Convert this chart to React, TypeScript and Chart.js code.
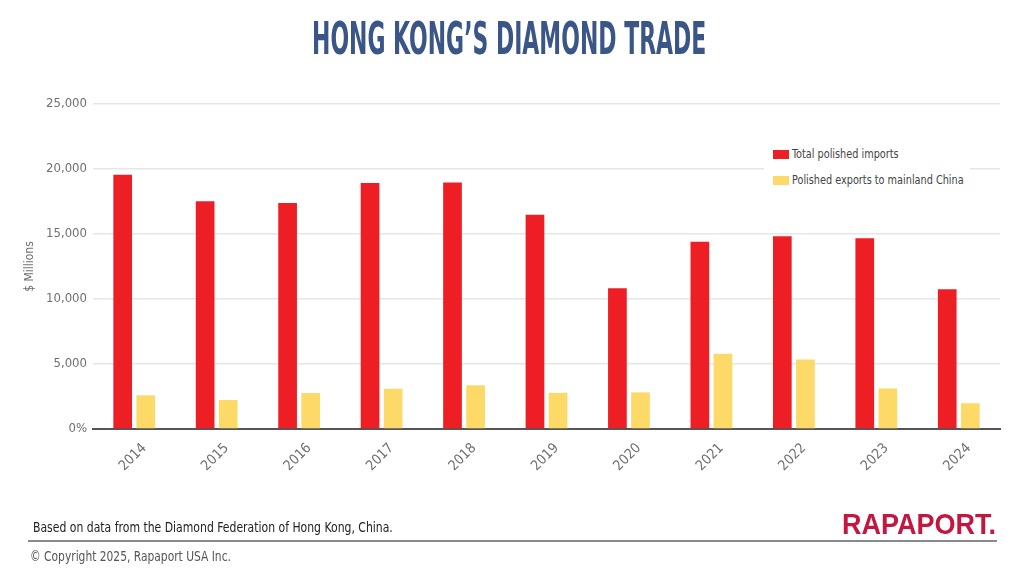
import { useEffect, useRef } from 'react';
import { Chart, registerables } from 'chart.js';

Chart.register(...registerables);

const YEARS = ['2014', '2015', '2016', '2017', '2018', '2019', '2020', '2021', '2022', '2023', '2024'];
const IMPORTS = [19560, 17510, 17380, 18920, 18970, 16480, 10830, 14400, 14830, 14680, 10750];
const EXPORTS_CHINA = [2590, 2230, 2770, 3100, 3360, 2780, 2820, 5780, 5350, 3120, 1980];
const SERIES_NAMES = ['Total polished imports', 'Polished exports to mainland China'];
const SERIES_COLORS = ['#ed1f24', '#fdd968'];

const NARROW = '"DejaVu Sans Condensed", "Liberation Sans Narrow", "Liberation Sans", sans-serif';

// squeeze html text horizontally, since no narrow face is available
function Squeezed({ scale, children, style }: { scale: number; children: any; style: any }) {
  return (
    <div
      style={{
        position: 'absolute',
        whiteSpace: 'nowrap',
        transform: `scaleX(${scale})`,
        transformOrigin: 'left top',
        ...style,
      }}
    >
      {children}
    </div>
  );
}

export default function App() {
  const canvasRef = useRef<HTMLCanvasElement>(null);
  const chartRef = useRef<Chart | null>(null);

  useEffect(() => {
    if (!canvasRef.current) return;
    chartRef.current?.destroy();

    chartRef.current = new Chart(canvasRef.current, {
      type: 'bar',
      data: {
        labels: YEARS,
        datasets: [
          {
            label: SERIES_NAMES[0],
            data: IMPORTS,
            backgroundColor: SERIES_COLORS[0],
            categoryPercentage: 0.56,
            barPercentage: 0.81,
          },
          {
            label: SERIES_NAMES[1],
            data: EXPORTS_CHINA,
            backgroundColor: SERIES_COLORS[1],
            categoryPercentage: 0.56,
            barPercentage: 0.81,
          },
        ],
      },
      options: {
        responsive: false,
        animation: false,
        layout: { padding: { top: 104, right: 24, bottom: 87, left: 0 } },
        plugins: {
          legend: { display: false },
          tooltip: { enabled: false },
        },
        scales: {
          x: {
            grid: { display: false },
            border: { display: true, color: '#555555', width: 2 },
            ticks: {
              color: '#707070',
              font: { family: NARROW, size: 14 },
              minRotation: 45,
              maxRotation: 45,
              padding: 3,
              labelOffset: 10,
            },
            afterFit: (scale) => {
              scale.height = 60;
            },
          },
          y: {
            min: 0,
            max: 25000,
            border: { display: false },
            grid: {
              color: (ctx) => (ctx.tick && ctx.tick.value === 0 ? 'rgba(0,0,0,0)' : '#e6e6e6'),
              lineWidth: 1.5,
              drawTicks: false,
            },
            ticks: {
              stepSize: 5000,
              color: '#707070',
              padding: 6,
              font: { family: NARROW, size: 13 },
              callback: (v) => (Number(v) === 0 ? '0%' : Number(v).toLocaleString('en-US')),
            },
            title: {
              display: true,
              text: '$ Millions',
              color: '#707070',
              font: { family: NARROW, size: 12 },
              padding: { top: 23, bottom: 0 },
            },
            afterFit: (scale) => {
              scale.width = 93;
            },
          },
        },
      },
    });

    return () => {
      chartRef.current?.destroy();
    };
  }, []);

  return (
    <div
      style={{
        position: 'fixed',
        left: 0,
        top: 0,
        width: 1024,
        height: 576,
        background: '#ffffff',
        overflow: 'hidden',
      }}
    >
      <canvas
        ref={canvasRef}
        width={1024}
        height={576}
        style={{ position: 'absolute', left: 0, top: 0, width: 1024, height: 576 }}
      />

      {/* title */}
      <Squeezed
        scale={0.555}
        style={{
          left: 312,
          top: 12,
          fontFamily: NARROW,
          fontWeight: 700,
          fontSize: 44,
          lineHeight: '54px',
          color: '#3a5687',
        }}
      >
        HONG KONG’S DIAMOND TRADE
      </Squeezed>

      {/* legend, sits on top of the grid like the original */}
      <div
        style={{
          position: 'absolute',
          left: 764,
          top: 142,
          width: 206,
          height: 52,
          background: '#ffffff',
        }}
      >
        {SERIES_NAMES.map((name, i) => (
          <div key={name}>
            <div
              style={{
                position: 'absolute',
                left: 9,
                top: 8 + i * 26,
                width: 16,
                height: 9,
                background: SERIES_COLORS[i],
              }}
            />
            <Squeezed
              scale={0.83}
              style={{
                left: 28,
                top: 4 + i * 26,
                fontFamily: NARROW,
                fontSize: 13,
                lineHeight: '16px',
                color: '#444444',
              }}
            >
              {name}
            </Squeezed>
          </div>
        ))}
      </div>

      {/* footer */}
      <Squeezed
        scale={0.833}
        style={{ left: 33, top: 519, fontFamily: NARROW, fontSize: 14.5, color: '#222222' }}
      >
        Based on data from the Diamond Federation of Hong Kong, China.
      </Squeezed>
      <Squeezed
        scale={0.9}
        style={{
          left: 842,
          top: 507,
          fontFamily: '"Liberation Sans", Arial, sans-serif',
          fontWeight: 700,
          fontSize: 30,
          color: '#c4173f',
        }}
      >
        RAPAPORT.
      </Squeezed>
      <div
        style={{
          position: 'absolute',
          left: 28,
          top: 540,
          width: 969,
          height: 2,
          background: '#8a8a8a',
        }}
      />
      <Squeezed
        scale={0.82}
        style={{ left: 30, top: 548, fontFamily: NARROW, fontSize: 14.5, color: '#555555' }}
      >
        © Copyright 2025, Rapaport USA Inc.
      </Squeezed>
    </div>
  );
}
